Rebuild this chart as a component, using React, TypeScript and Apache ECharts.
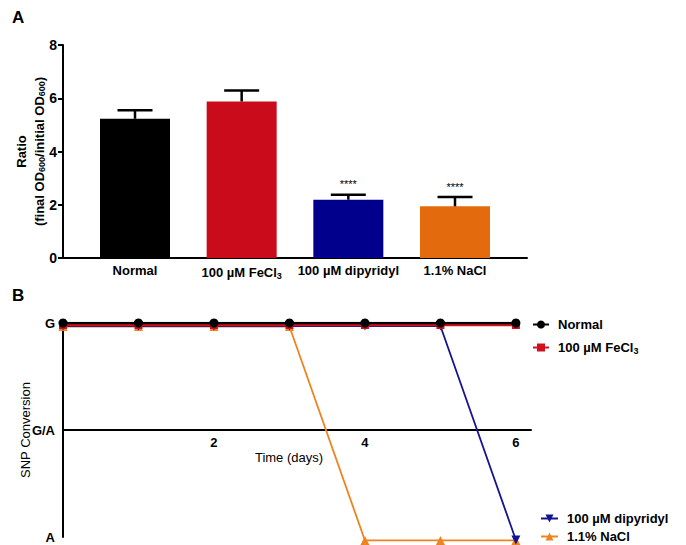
import React, { useEffect, useRef } from 'react';
import * as echarts from 'echarts';

// ---- Panel A data ----
const barCategories = ['Normal', '100 µM FeCl3', '100 µM dipyridyl', '1.1% NaCl'];
const barValues = [5.23, 5.88, 2.19, 1.94];
const barErrorTops = [5.55, 6.29, 2.38, 2.29];
const barSignif = ['', '', '****', '****'];
const barColors = ['#000000', '#C90B1B', '#00008C', '#E36B0D'];

// ---- Panel B data ----
const days = [0, 1, 2, 3, 4, 5, 6];
const snpLevels = ['A', 'G/A', 'G']; // mapped to -1, 0, 1
const snpNormal = ['G', 'G', 'G', 'G', 'G', 'G', 'G'];
const snpFeCl3 = ['G', 'G', 'G', 'G', 'G', 'G', 'G'];
const snpDipyridyl = ['G', 'G', 'G', 'G', 'G', 'G', 'A'];
const snpNaCl = ['G', 'G', 'G', 'G', 'A', 'A', 'A'];
const timeTicks = [2, 4, 6];

const FONT = 'Liberation Sans';

const subFmt = (s: string) => s.replace('Cl3', 'Cl{s|3}');
const lvl = (s: string) => snpLevels.indexOf(s) - 1;
const toPts = (arr: string[]) => days.map((d, i) => [d, lvl(arr[i])]);

export default function App() {
  const ref = useRef<HTMLDivElement>(null);
  useEffect(() => {
    if (!ref.current) return;
    const chart = echarts.init(ref.current, undefined, { renderer: 'svg' });
    const labelRich = {
      s: { fontSize: 9, fontWeight: 'bold', fontFamily: FONT, color: '#000', padding: [7, 0, 0, 0] },
    };
    const legendText = { fontSize: 13, fontWeight: 'bold', color: '#000', fontFamily: FONT, rich: labelRich, padding: [0, 0, 0, 4] };
    const gridBase = { outerBoundsMode: 'none', containLabel: false };
    const option: any = {
      animation: false,
      backgroundColor: '#fff',
      textStyle: { fontFamily: FONT, color: '#000' },
      title: [
        { text: 'A', left: 12, top: 9, padding: 0, textStyle: { fontSize: 17, fontWeight: 'bold', fontFamily: FONT, color: '#000' } },
        { text: 'B', left: 12, top: 287, padding: 0, textStyle: { fontSize: 17, fontWeight: 'bold', fontFamily: FONT, color: '#000' } },
      ],
      grid: [
        { ...gridBase, left: 63, top: 45, width: 464, height: 213 },
        { ...gridBase, left: 63, top: 323, width: 468, height: 214 },
        { ...gridBase, left: 63, top: 325, width: 468, height: 214 },
        { ...gridBase, left: 63, top: 323, width: 468, height: 107 },
        { ...gridBase, left: 63, top: 326, width: 468, height: 214 },
        { ...gridBase, left: 63, top: 326.5, width: 468, height: 214 },
      ],
      xAxis: [
        {
          gridIndex: 0, type: 'value', min: -0.675, max: 3.675,
          axisLine: { onZero: false, lineStyle: { color: '#000', width: 2 } },
          axisTick: { show: false },
          splitLine: { show: false },
          axisLabel: {
            customValues: [0, 1, 2, 3],
            formatter: (v: number) => subFmt(barCategories[Math.round(v)] ?? ''),
            fontSize: 13, fontWeight: 'bold', color: '#000', margin: 6, rich: labelRich,
          },
        },
        { gridIndex: 1, type: 'value', min: 0, max: 6.2, show: false },
        { gridIndex: 2, type: 'value', min: 0, max: 6.2, show: false },
        {
          gridIndex: 3, type: 'value', min: 0, max: 6.2,
          name: 'Time (days)', nameLocation: 'middle', nameGap: 21, nameMoveOverlap: false,
          nameTextStyle: { fontSize: 13, color: '#000', fontFamily: FONT, padding: [0, 16, 0, 0] },
          axisLine: { onZero: false, lineStyle: { color: '#000', width: 2 } },
          axisTick: { show: false },
          splitLine: { show: false },
          axisLabel: { customValues: timeTicks, fontSize: 13, fontWeight: 'bold', color: '#000', margin: 6 },
        },
        { gridIndex: 4, type: 'value', min: 0, max: 6.2, show: false },
        { gridIndex: 5, type: 'value', min: 0, max: 6.2, show: false },
      ],
      yAxis: [
        {
          gridIndex: 0, type: 'value', min: 0, max: 8, interval: 2,
          name: '{b|Ratio}\n{b|(final OD}{s|600}{b|/initial OD}{s|600}{b|)}',
          nameLocation: 'middle', nameGap: 15, nameMoveOverlap: false,
          nameTextStyle: {
            lineHeight: 18,
            rich: {
              b: { fontSize: 13, fontWeight: 'bold', fontFamily: FONT, color: '#000', lineHeight: 18 },
              s: { fontSize: 9, fontWeight: 'bold', fontFamily: FONT, color: '#000', padding: [6, 0, 0, 0] },
            },
          },
          axisLine: { show: true, onZero: false, lineStyle: { color: '#000', width: 2 } },
          axisTick: { show: true, length: 5, lineStyle: { color: '#000', width: 2 } },
          splitLine: { show: false },
          axisLabel: { fontSize: 14, fontWeight: 'bold', color: '#000', margin: 6 },
        },
        {
          gridIndex: 1, type: 'value', min: -1, max: 1, interval: 1,
          name: 'SNP Conversion', nameLocation: 'middle', nameGap: 31, nameMoveOverlap: false,
          nameTextStyle: { fontSize: 13, color: '#000', fontFamily: FONT },
          axisLine: { show: true, onZero: false, lineStyle: { color: '#000', width: 2 } },
          axisTick: { show: false },
          splitLine: { show: false },
          axisLabel: {
            formatter: (v: number) => snpLevels[Math.round(v) + 1] ?? '',
            fontSize: 13, fontWeight: 'bold', color: '#000', margin: 8,
          },
        },
        { gridIndex: 2, type: 'value', min: -1, max: 1, show: false },
        { gridIndex: 3, type: 'value', min: 0, max: 1, show: false },
        { gridIndex: 4, type: 'value', min: -1, max: 1, show: false },
        { gridIndex: 5, type: 'value', min: -1, max: 1, show: false },
      ],
      legend: [
        {
          orient: 'vertical', left: 532, top: 318, padding: 0, itemWidth: 16, itemHeight: 10, itemGap: 10,
          data: ['Normal', '100 µM FeCl3'],
          formatter: (n: string) => subFmt(n),
          textStyle: legendText,
        },
        {
          orient: 'vertical', left: 540, top: 512, padding: 0, itemWidth: 17, itemHeight: 10,
          data: ['100 µM dipyridyl'],
          textStyle: legendText,
        },
        {
          orient: 'vertical', left: 540, top: 530, padding: 0, itemWidth: 17, itemHeight: 10,
          data: ['1.1% NaCl'],
          textStyle: legendText,
        },
      ],
      series: [
        {
          type: 'bar', xAxisIndex: 0, yAxisIndex: 0, barWidth: 70,
          data: barValues.map((v, i) => ({ value: [i, v], itemStyle: { color: barColors[i] } })),
          z: 2,
        },
        {
          type: 'custom', xAxisIndex: 0, yAxisIndex: 0, z: 3,
          data: barValues.map((v, i) => [i, v, barErrorTops[i], i]),
          renderItem: (params: any, api: any) => {
            const x = api.value(0);
            const base = api.coord([x, api.value(1)]);
            const top = api.coord([x, api.value(2)]);
            const idx = api.value(3);
            const children: any[] = [
              { type: 'line', shape: { x1: base[0], y1: base[1], x2: top[0], y2: top[1] }, style: { stroke: '#000', lineWidth: 2.5 } },
              { type: 'line', shape: { x1: top[0] - 17.5, y1: top[1], x2: top[0] + 17.5, y2: top[1] }, style: { stroke: '#000', lineWidth: 2.5 } },
            ];
            if (barSignif[idx]) {
              children.push({
                type: 'text',
                style: { text: barSignif[idx], x: top[0], y: top[1] - 5, textAlign: 'center', textVerticalAlign: 'bottom', fontSize: 11, fontFamily: FONT, fill: '#000' },
              });
            }
            return { type: 'group', children };
          },
        },
        {
          name: '1.1% NaCl', type: 'line', xAxisIndex: 5, yAxisIndex: 5,
          data: toPts(snpNaCl), symbol: 'triangle', symbolSize: 9,
          itemStyle: { color: '#EE8420' }, lineStyle: { color: '#EE8420', width: 1.8 }, z: 3,
        },
        {
          name: '100 µM dipyridyl', type: 'line', xAxisIndex: 4, yAxisIndex: 4,
          data: toPts(snpDipyridyl), symbol: 'triangle', symbolRotate: 180, symbolSize: 9,
          itemStyle: { color: '#15148F' }, lineStyle: { color: '#15148F', width: 1.8 }, z: 4,
        },
        {
          name: '100 µM FeCl3', type: 'line', xAxisIndex: 2, yAxisIndex: 2,
          data: toPts(snpFeCl3), symbol: 'rect', symbolSize: 8,
          itemStyle: { color: '#D0101E' }, lineStyle: { color: '#D0101E', width: 2.5 }, z: 5,
        },
        {
          name: 'Normal', type: 'line', xAxisIndex: 1, yAxisIndex: 1,
          data: toPts(snpNormal), symbol: 'circle', symbolSize: 9,
          itemStyle: { color: '#000' }, lineStyle: { color: '#000', width: 2.5 }, z: 6,
        },
      ],
    };
    chart.setOption(option);
    return () => chart.dispose();
  }, []);
  return <div ref={ref} style={{ position: 'fixed', left: 0, top: 0, width: 686, height: 545 }} />;
}
